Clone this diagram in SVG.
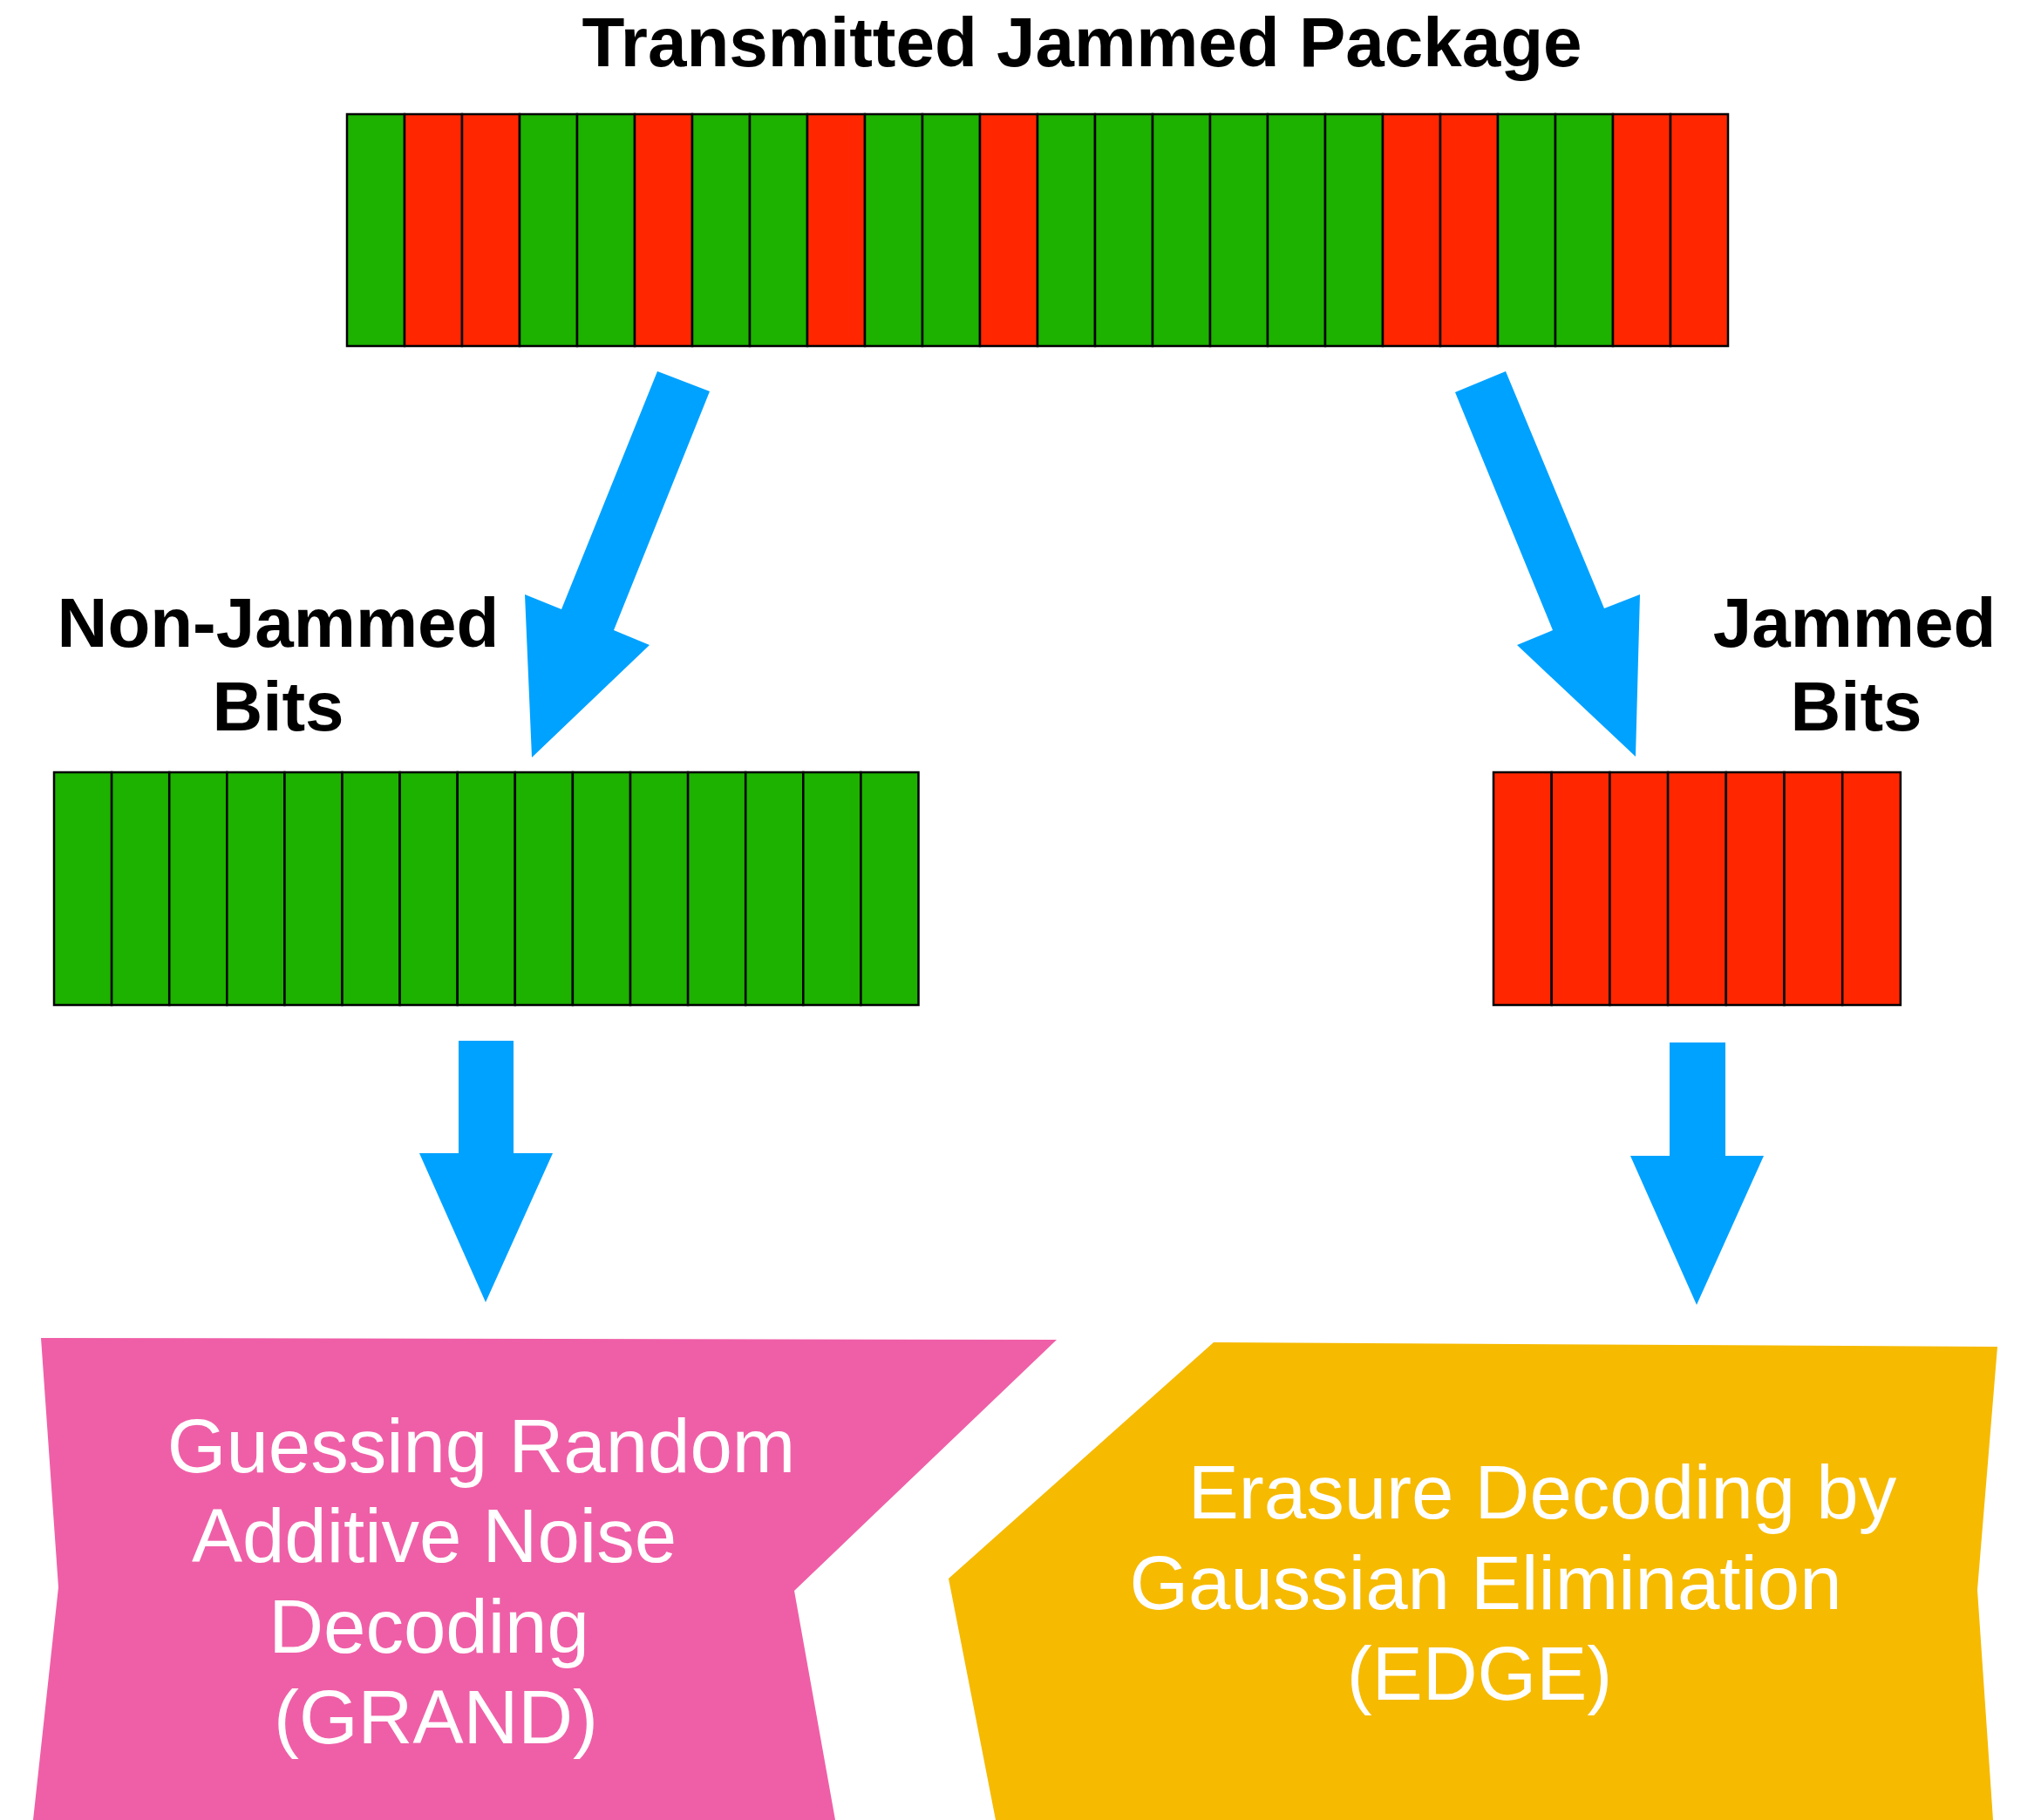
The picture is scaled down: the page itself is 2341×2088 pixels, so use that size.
<svg xmlns="http://www.w3.org/2000/svg" width="2341" height="2088" viewBox="0 0 2341 2088">
  <style>
    .g { fill: #1DB100; stroke: #000; stroke-width: 2.5; }
    .r { fill: #FF2600; stroke: #000; stroke-width: 2.5; }
    .arrow { fill: #00A2FF; }
    .label { font-family: "Liberation Sans", Arial, Helvetica, sans-serif; font-weight: bold; font-size: 80px; fill: #000; text-anchor: middle; }
    .boxtext { font-family: "Liberation Sans", Arial, Helvetica, sans-serif; font-size: 87px; fill: #fff; text-anchor: middle; }
  </style>
  <rect width="2341" height="2088" fill="#fff"/>

  <!-- transmitted package: 24 bits -->
  <g id="package">
    <text class="label" x="1241" y="76">Transmitted Jammed Package</text>
    <g transform="translate(398,131)">
      <rect class="g" x="0" y="0" width="66" height="266"/>
      <rect class="r" x="66" y="0" width="66" height="266"/>
      <rect class="r" x="132" y="0" width="66" height="266"/>
      <rect class="g" x="198" y="0" width="66" height="266"/>
      <rect class="g" x="264" y="0" width="66" height="266"/>
      <rect class="r" x="330" y="0" width="66" height="266"/>
      <rect class="g" x="396" y="0" width="66" height="266"/>
      <rect class="g" x="462" y="0" width="66" height="266"/>
      <rect class="r" x="528" y="0" width="66" height="266"/>
      <rect class="g" x="594" y="0" width="66" height="266"/>
      <rect class="g" x="660" y="0" width="66" height="266"/>
      <rect class="r" x="726" y="0" width="66" height="266"/>
      <rect class="g" x="792" y="0" width="66" height="266"/>
      <rect class="g" x="858" y="0" width="66" height="266"/>
      <rect class="g" x="924" y="0" width="66" height="266"/>
      <rect class="g" x="990" y="0" width="66" height="266"/>
      <rect class="g" x="1056" y="0" width="66" height="266"/>
      <rect class="g" x="1122" y="0" width="66" height="266"/>
      <rect class="r" x="1188" y="0" width="66" height="266"/>
      <rect class="r" x="1254" y="0" width="66" height="266"/>
      <rect class="g" x="1320" y="0" width="66" height="266"/>
      <rect class="g" x="1386" y="0" width="66" height="266"/>
      <rect class="r" x="1452" y="0" width="66" height="266"/>
      <rect class="r" x="1518" y="0" width="66" height="266"/>
    </g>
  </g>

  <!-- non-jammed bits: 15 green -->
  <g id="non-jammed">
    <text class="label" x="319" y="742">Non-Jammed</text>
    <text class="label" x="319" y="838">Bits</text>
    <g transform="translate(62,886)">
      <rect class="g" x="0" y="0" width="66.1" height="267"/>
      <rect class="g" x="66.1" y="0" width="66.1" height="267"/>
      <rect class="g" x="132.2" y="0" width="66.1" height="267"/>
      <rect class="g" x="198.3" y="0" width="66.1" height="267"/>
      <rect class="g" x="264.4" y="0" width="66.1" height="267"/>
      <rect class="g" x="330.5" y="0" width="66.1" height="267"/>
      <rect class="g" x="396.6" y="0" width="66.1" height="267"/>
      <rect class="g" x="462.7" y="0" width="66.1" height="267"/>
      <rect class="g" x="528.8" y="0" width="66.1" height="267"/>
      <rect class="g" x="594.9" y="0" width="66.1" height="267"/>
      <rect class="g" x="661" y="0" width="66.1" height="267"/>
      <rect class="g" x="727.1" y="0" width="66.1" height="267"/>
      <rect class="g" x="793.2" y="0" width="66.1" height="267"/>
      <rect class="g" x="859.3" y="0" width="66.1" height="267"/>
      <rect class="g" x="925.4" y="0" width="66.1" height="267"/>
    </g>
  </g>

  <!-- jammed bits: 7 red -->
  <g id="jammed">
    <text class="label" x="2127" y="742">Jammed</text>
    <text class="label" x="2129" y="838">Bits</text>
    <g transform="translate(1713,886)">
      <rect class="r" x="0" y="0" width="66.7" height="267"/>
      <rect class="r" x="66.7" y="0" width="66.7" height="267"/>
      <rect class="r" x="133.4" y="0" width="66.7" height="267"/>
      <rect class="r" x="200.1" y="0" width="66.7" height="267"/>
      <rect class="r" x="266.8" y="0" width="66.7" height="267"/>
      <rect class="r" x="333.5" y="0" width="66.7" height="267"/>
      <rect class="r" x="400.2" y="0" width="66.7" height="267"/>
    </g>
  </g>

  <!-- GRAND decoder -->
  <g id="grand">
    <polygon fill="#EF5FA7" points="47,1535 1212,1537 911,1825 958,2088 38,2088 67,1821"/>
    <text class="boxtext" x="552" y="1689">Guessing Random</text>
    <text class="boxtext" x="498" y="1792">Additive Noise</text>
    <text class="boxtext" x="492" y="1896">Decoding</text>
    <text class="boxtext" x="500" y="2000">(GRAND)</text>
  </g>

  <!-- EDGE decoder -->
  <g id="edge">
    <polygon fill="#F6BA00" points="1392,1540 2291,1545 2268,1824 2286,2088 1142,2088 1088,1811"/>
    <text class="boxtext" x="1769" y="1742">Erasure Decoding by</text>
    <text class="boxtext" x="1704" y="1846">Gaussian Elimination</text>
    <text class="boxtext" x="1697" y="1950">(EDGE)</text>
  </g>

  <!-- connectors -->
  <g id="connectors">
    <polygon class="arrow" points="754,426 814,449 704,723 745,740 610,869 602,682 644,699"/>
    <polygon class="arrow" points="1669,450 1727,426 1840,698 1881,682 1876,868 1740,740 1781,723"/>
    <polygon class="arrow" points="526,1194 589,1194 589,1323 634,1323 557,1494 481,1323 526,1323"/>
    <polygon class="arrow" points="1915,1196 1979,1196 1979,1326 2023,1326 1946,1497 1870,1326 1915,1326"/>
  </g>
</svg>
